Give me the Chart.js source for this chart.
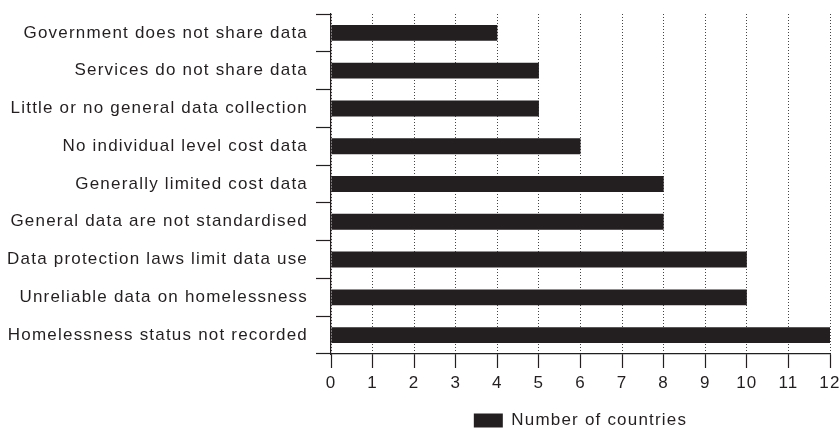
<!DOCTYPE html>
<html>
<head>
<meta charset="utf-8">
<script src="https://cdn.jsdelivr.net/npm/chart.js@4/dist/chart.umd.min.js"></script>
<style>
  html, body { margin: 0; padding: 0; background: #ffffff; }
  #wrap { width: 840px; height: 429px; position: relative; }
</style>
</head>
<body>
<div id="wrap"><canvas id="c"></canvas></div>
<script>
const categories = [
  "Government does not share data",
  "Services do not share data",
  "Little or no general data collection",
  "No individual level cost data",
  "Generally limited cost data",
  "General data are not standardised",
  "Data protection laws limit data use",
  "Unreliable data on homelessness",
  "Homelessness status not recorded"
];
const countries = [4, 5, 5, 6, 8, 8, 10, 10, 12];
const seriesName = "Number of countries";
const xTicks = [0,1,2,3,4,5,6,7,8,9,10,11,12];

const ink = "#231f20";
const font = { family: "'Liberation Sans', Arial, Helvetica, sans-serif", size: 17 };

const spacing = {
  id: "spacing",
  beforeLayout(chart) { chart.ctx.letterSpacing = "1.2px"; },
  beforeDraw(chart) { chart.ctx.letterSpacing = "1.2px"; }
};

new Chart(document.getElementById("c"), {
  type: "bar",
  plugins: [spacing],
  data: {
    labels: categories,
    datasets: [{
      label: seriesName,
      data: countries,
      backgroundColor: ink,
      borderWidth: 0,
      categoryPercentage: 1.0,
      barPercentage: 0.42
    }]
  },
  options: {
    indexAxis: "y",
    responsive: true,
    maintainAspectRatio: false,
    animation: false,
    layout: { padding: { top: 14, right: 0, left: 0, bottom: -10 } },
    plugins: {
      legend: {
        position: "bottom",
        fullSize: false,
        labels: {
          color: ink,
          font: font,
          boxWidth: 29,
          boxHeight: 14,
          padding: 1
        }
      },
      tooltip: { enabled: false }
    },
    scales: {
      x: {
        min: 0,
        max: 12,
        afterBuildTicks: (s) => { s.ticks = xTicks.map(v => ({ value: v })); },
        ticks: { color: ink, font: font, padding: 5, autoSkip: false, maxRotation: 0 },
        grid: {
          color: "#444",
          lineWidth: 1,
          drawTicks: true,
          tickLength: 14,
          tickColor: ink,
          tickBorderDash: [],
          tickWidth: 1.2
        },
        border: { display: true, color: ink, width: 1.2, dash: [1, 2] },
        afterFit: (s) => { s.height = 57; s.paddingRight = 10; s.paddingLeft = 0; }
      },
      y: {
        ticks: { color: ink, font: font, padding: 8 },
        grid: {
          offset: true,
          drawOnChartArea: false,
          drawTicks: true,
          tickLength: 15,
          tickColor: ink,
          tickWidth: 1.2
        },
        border: { display: true, color: ink, width: 1.2 },
        afterFit: (s) => { s.width = 331; s.paddingTop = 0; }
      }
    }
  }
});
</script>
</body>
</html>
